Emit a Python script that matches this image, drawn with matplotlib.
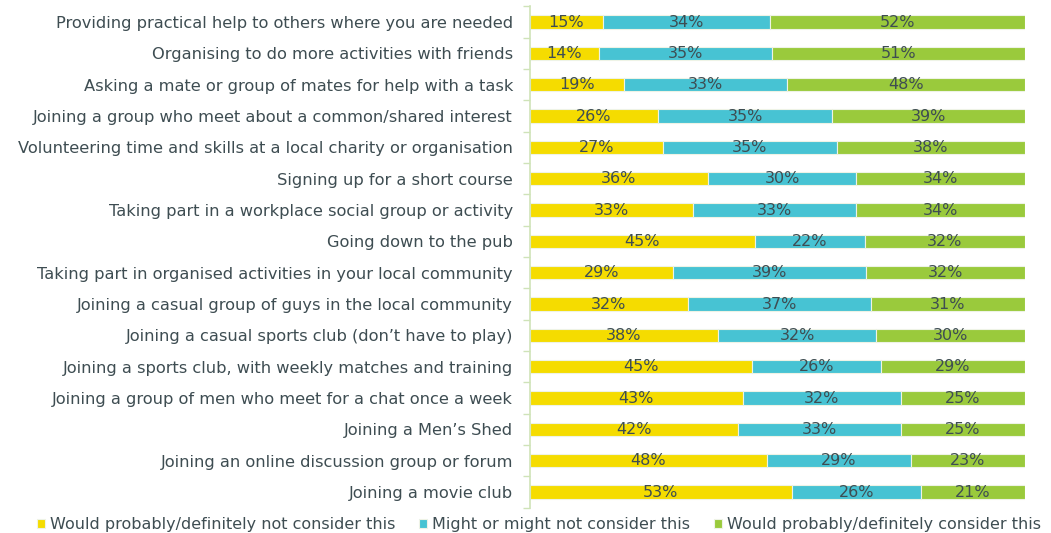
import matplotlib.pyplot as plt
import numpy as np

activities = [
    "Providing practical help to others where you are needed",
    "Organising to do more activities with friends",
    "Asking a mate or group of mates for help with a task",
    "Joining a group who meet about a common/shared interest",
    "Volunteering time and skills at a local charity or organisation",
    "Signing up for a short course",
    "Taking part in a workplace social group or activity",
    "Going down to the pub",
    "Taking part in organised activities in your local community",
    "Joining a casual group of guys in the local community",
    "Joining a casual sports club (don\u2019t have to play)",
    "Joining a sports club, with weekly matches and training",
    "Joining a group of men who meet for a chat once a week",
    "Joining a Men\u2019s Shed",
    "Joining an online discussion group or forum",
    "Joining a movie club",
]
not_consider = [15, 14, 19, 26, 27, 36, 33, 45, 29, 32, 38, 45, 43, 42, 48, 53]
might_consider = [34, 35, 33, 35, 35, 30, 33, 22, 39, 37, 32, 26, 32, 33, 29, 26]
would_consider = [52, 51, 48, 39, 38, 34, 34, 32, 32, 31, 30, 29, 25, 25, 23, 21]

series_names = ["Would probably/definitely not consider this",
                "Might or might not consider this",
                "Would probably/definitely consider this"]
colors = ["#f5dc00", "#47c3d3", "#9aca3c"]
text_col = "#3e4d52"

data = np.array([not_consider, might_consider, would_consider], dtype=float)
shares = data / data.sum(axis=0)  # each bar filled to 100%

fig = plt.figure(figsize=(10.51, 5.33), dpi=100)
ax = fig.add_axes([0.504, 0.0475, 0.471, 0.9405])

y = np.arange(len(activities))
left = np.zeros(len(activities))
for i in range(3):
    bars = ax.barh(y, shares[i], left=left, height=0.42, color=colors[i],
                   edgecolor="#eef3e6", linewidth=0.8, label=series_names[i])
    for j, b in enumerate(bars):
        ax.text(left[j] + shares[i][j] / 2, y[j], f"{int(data[i][j])}%",
                ha="center", va="center", fontsize=11.5, color=text_col)
    left += shares[i]

ax.set_xlim(0, 1)
ax.set_ylim(len(activities) - 0.5, -0.5)
ax.set_xticks([])
ax.set_yticks(y)
ax.set_yticklabels(activities, fontsize=11.7, color=text_col)
ax.tick_params(axis="y", length=0, pad=12)
ax.set_yticks(np.arange(-0.5, len(activities) + 0.5, 1), minor=True)
ax.tick_params(axis="y", which="minor", length=5, color="#cfe3b8", width=1)
for s in ["top", "right", "bottom"]:
    ax.spines[s].set_visible(False)
ax.spines["left"].set_color("#cfe3b8")
ax.spines["left"].set_linewidth(1.2)

leg = fig.legend(loc="lower center", bbox_to_anchor=(0.513, -0.025), ncol=3,
                 frameon=False, fontsize=11.5, handlelength=0.5,
                 handleheight=0.5, handletextpad=0.3, columnspacing=1.5)
for t in leg.get_texts():
    t.set_color(text_col)

fig.savefig("out.png", dpi=100)
